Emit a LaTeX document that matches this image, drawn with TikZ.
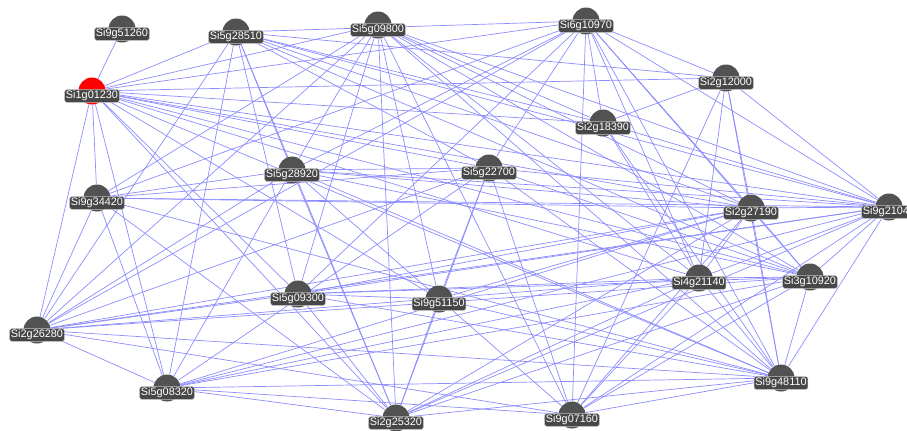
\documentclass[tikz,border=0pt]{standalone}
\usepackage{fontspec}
\setmainfont{Liberation Sans}
\usetikzlibrary{backgrounds}
\tikzstyle{gene}=[circle, fill=black!68, minimum size=5.4mm, inner sep=0pt]
\tikzstyle{seed}=[gene, fill=red]
\tikzstyle{genelabel}=[fill=black!72, draw=white!75!black, line width=0.3pt,
rounded corners=1.2pt, inner sep=0.7pt, text=white, font=\fontsize{6.2}{7}\selectfont]
\tikzstyle{link}=[blue!45, line width=0.4pt]

\begin{document}
\begin{tikzpicture}[x=0.2mm, y=-0.2mm]
	\clip (0,0) rectangle (907,430);
	% genes (pixel positions of the layout)
	\node[seed] (Si1g01230) at (92,91) {};
	\node[genelabel, yshift=-1mm] at (Si1g01230) {Si1g01230};
	\foreach \n/\x/\y in {Si9g51260/122/29, Si5g28510/236/32, Si5g09800/378/25,
		Si6g10970/586/21, Si2g12000/726/78, Si2g18390/603/123, Si5g28920/292/170,
		Si5g22700/489/168, Si9g34420/97/198, Si2g27190/751/208, Si9g21040/889/207,
		Si5g09300/298/294, Si9g51150/439/299, Si4g21140/699/278, Si3g10920/810/277,
		Si2g26280/37/330, Si5g08320/167/388, Si2g25320/396/418, Si9g07160/572/415,
		Si9g48110/781/378}{
		\node[gene] (\n) at (\x,\y) {};
		\node[genelabel, yshift=-1mm] at (\n) {\n};
	}

	% co-expression links
	\begin{pgfonlayer}{background}
		\foreach \a/\bs in {
			Si1g01230/{Si9g51260,Si5g28510,Si5g09800,Si6g10970,Si2g12000,Si2g18390,Si5g22700,Si9g21040,Si2g27190,Si3g10920,Si4g21140,Si9g48110,Si9g34420,Si2g26280,Si5g08320,Si5g09300,Si2g25320,Si9g51150},
			Si5g28510/{Si6g10970,Si2g12000,Si2g18390,Si9g21040,Si2g27190,Si5g22700,Si5g28920,Si5g09300,Si2g25320,Si5g08320,Si2g26280,Si3g10920},
			Si5g09800/{Si5g28920,Si9g34420,Si2g26280,Si5g09300,Si2g25320,Si9g51150,Si9g07160,Si9g48110,Si4g21140,Si9g21040,Si2g27190,Si3g10920,Si2g18390},
			Si6g10970/{Si9g34420,Si5g28920,Si5g09300,Si2g26280,Si5g22700,Si2g18390,Si2g12000,Si9g21040,Si2g27190,Si4g21140,Si3g10920,Si9g48110,Si9g07160},
			Si2g12000/{Si2g18390,Si9g21040,Si2g27190,Si4g21140,Si9g07160,Si9g48110},
			Si2g18390/{Si9g21040,Si4g21140,Si9g48110},
			Si5g28920/{Si9g34420,Si9g21040,Si2g27190,Si3g10920,Si2g26280,Si5g08320,Si2g25320,Si9g07160,Si9g48110,Si5g22700},
			Si5g22700/{Si9g34420,Si9g21040,Si2g26280,Si5g08320,Si2g25320,Si9g51150,Si9g07160,Si9g48110,Si3g10920},
			Si9g34420/{Si9g21040,Si2g27190,Si2g26280,Si5g08320,Si2g25320,Si9g48110},
			Si2g26280/{Si5g09300,Si2g27190,Si9g21040,Si4g21140,Si3g10920,Si5g08320,Si9g48110,Si9g07160},
			Si5g08320/{Si2g27190,Si4g21140,Si3g10920,Si9g21040,Si9g48110,Si9g07160,Si2g25320},
			Si5g09300/{Si2g27190,Si9g21040,Si4g21140,Si3g10920,Si9g51150,Si2g25320,Si9g48110},
			Si9g51150/{Si2g25320,Si2g27190,Si9g48110},
			Si2g25320/{Si2g27190,Si4g21140,Si3g10920,Si9g21040,Si9g48110},
			Si9g07160/{Si2g27190,Si4g21140,Si3g10920,Si9g21040,Si9g48110},
			Si2g27190/{Si9g48110,Si4g21140,Si3g10920,Si9g21040},
			Si4g21140/{Si9g48110,Si9g21040,Si3g10920},
			Si3g10920/{Si9g48110,Si9g21040},
			Si9g21040/{Si9g48110}}
			\foreach \b in \bs
				\draw[link] (\a) -- (\b);
	\end{pgfonlayer}
\end{tikzpicture}
\end{document}
